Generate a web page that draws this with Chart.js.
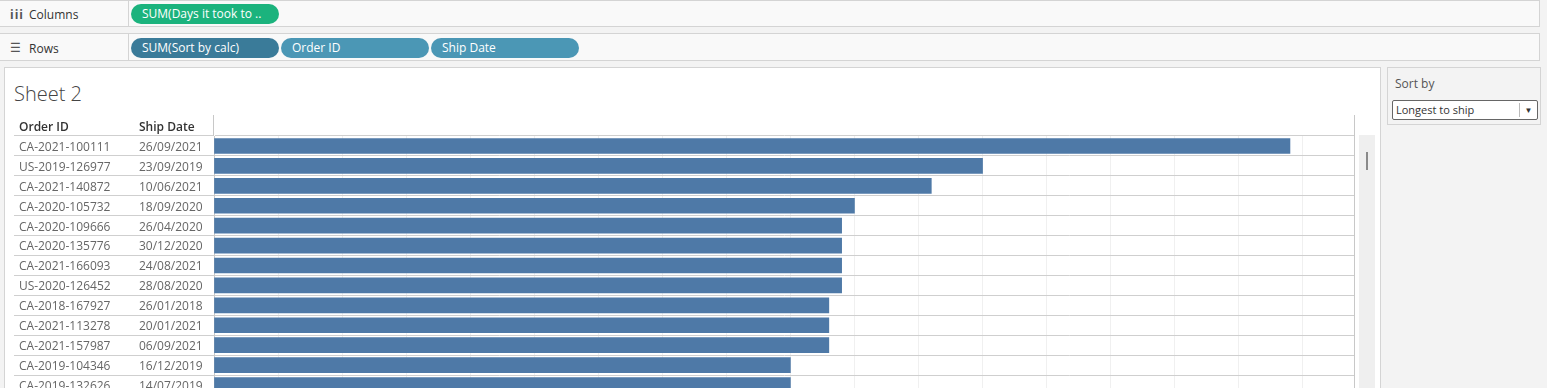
<!DOCTYPE html>
<html>
<head>
<meta charset="utf-8">
<script src="https://cdn.jsdelivr.net/npm/chart.js@4"></script>
<style>
  body { margin: 0; width: 1547px; height: 388px; overflow: hidden; background: #f3f3f3; font-family: "Open Sans", sans-serif; position: relative; }
  .shelf { position: absolute; left: 0; width: 1540px; background: #f9f9f9; border: 1px solid #d4d4d4; border-left: none; box-sizing: border-box; }
  .shelf .lbl { position: absolute; left: 0; top: 0; bottom: 0; width: 128px; border-right: 1px solid #d4d4d4; font-size: 12px; color: #333; }
  .shelf .lbl span.ic { position: absolute; left: 10px; color: #555; font-size: 12px; font-weight: bold; }
  .shelf .lbl span.tx { position: absolute; left: 29px; }
  .pill { position: absolute; height: 20px; border-radius: 10px; color: #fff; font-size: 12px; line-height: 20px; padding-left: 11px; box-sizing: border-box; }
  #panel { position: absolute; left: 4px; top: 67px; width: 1377px; height: 340px; background: #fff; border: 1px solid #d4d4d4; box-sizing: border-box; }
  #title { position: absolute; left: 14px; top: 80px; font-size: 20px; font-weight: 300; color: #444; }
  #wrap { position: absolute; left: 14px; top: 115px; width: 1342px; height: 280px; }
  #scroll { position: absolute; left: 1359px; top: 135px; width: 16px; height: 260px; background: #efefef; }
  #thumb { position: absolute; left: 7px; top: 17px; width: 2px; height: 18px; background: #8a8a8a; }
  #card { position: absolute; left: 1387px; top: 67px; width: 154px; height: 58px; border: 1px solid #d4d4d4; box-sizing: border-box; background: #f3f3f3; }
  #card .t { position: absolute; left: 7px; top: 7px; font-size: 12px; color: #555; }
  #dd { position: absolute; left: 4px; top: 32px; width: 146px; height: 20px; border: 1px solid #666; border-radius: 2px; background: #fff; box-sizing: border-box; font-size: 11px; color: #333; line-height: 18px; padding-left: 3px; }
  #dd .ar { position: absolute; right: 0; top: 2px; width: 17px; height: 14px; border-left: 1px solid #bbb; font-size: 8px; line-height: 14px; text-align: center; color: #333; }
</style>
</head>
<body>
<div class="shelf" style="top:0;height:27px;">
  <div class="lbl"><span class="ic" style="top:5px;letter-spacing:1px;">iii</span><span class="tx" style="top:5px;">Columns</span></div>
  <div class="pill" style="left:131px;top:3px;width:148px;background:#1bb37d;">SUM(Days it took to ..</div>
</div>
<div class="shelf" style="top:33px;height:28px;">
  <div class="lbl"><span class="ic" style="top:5px;font-weight:normal;">☰</span><span class="tx" style="top:6px;">Rows</span></div>
  <div class="pill" style="left:131px;top:4px;width:148px;background:#3a7b99;">SUM(Sort by calc)</div>
  <div class="pill" style="left:281px;top:4px;width:148px;background:#4b97b5;">Order ID</div>
  <div class="pill" style="left:431px;top:4px;width:148px;background:#4b97b5;">Ship Date</div>
</div>
<div id="panel"></div>
<div id="title">Sheet 2</div>
<div id="wrap"><canvas id="chart"></canvas></div>
<div id="scroll"><div id="thumb"></div></div>
<div id="card"><div class="t">Sort by</div><div id="dd">Longest to ship<div class="ar">▼</div></div></div>

<script>
const orderIds = ['CA-2021-100111', 'US-2019-126977', 'CA-2021-140872', 'CA-2020-105732', 'CA-2020-109666',
  'CA-2020-135776', 'CA-2021-166093', 'US-2020-126452', 'CA-2018-167927', 'CA-2021-113278',
  'CA-2021-157987', 'CA-2019-104346', 'CA-2019-132626'];
const shipDates = ['26/09/2021', '23/09/2019', '10/06/2021', '18/09/2020', '26/04/2020',
  '30/12/2020', '24/08/2021', '28/08/2020', '26/01/2018', '20/01/2021',
  '06/09/2021', '16/12/2019', '14/07/2019'];
const daysToShip = [84, 60, 56, 50, 49, 49, 49, 49, 48, 48, 48, 45, 45];

const LABEL_W = 200;

// row header columns + header lines
const rowHeaders = {
  id: 'rowHeaders',
  afterDraw(chart) {
    const ctx = chart.ctx;
    const area = chart.chartArea;
    const yScale = chart.scales.y;
    ctx.save();
    ctx.textBaseline = 'middle';
    ctx.fillStyle = '#333';
    ctx.font = '600 12px "Open Sans"';
    ctx.fillText('Order ID', 5, 13);
    ctx.fillText('Ship Date', 125, 13);
    ctx.font = '12px "Open Sans"';
    ctx.fillStyle = '#666';
    orderIds.forEach((id, i) => {
      const y = yScale.getPixelForValue(i) + 1.5;
      ctx.fillText(id, 5, y);
      ctx.fillText(shipDates[i], 125, y);
    });
    ctx.strokeStyle = '#c8c8c8';
    ctx.lineWidth = 1;
    ctx.beginPath();
    ctx.moveTo(Math.round(area.left) - 0.5, 0);
    ctx.lineTo(Math.round(area.left) - 0.5, area.top);
    ctx.moveTo(Math.round(area.right) + 0.5, 0);
    ctx.lineTo(Math.round(area.right) + 0.5, area.bottom);
    ctx.stroke();
    ctx.restore();
  }
};

new Chart(document.getElementById('chart'), {
  type: 'bar',
  data: {
    labels: orderIds,
    datasets: [{
      label: 'SUM(Days it took to ship)',
      data: daysToShip,
      backgroundColor: '#4e79a7',
      barThickness: 15
    }]
  },
  options: {
    indexAxis: 'y',
    responsive: true,
    maintainAspectRatio: false,
    animation: false,
    layout: { padding: { top: 21, right: 2, left: 0, bottom: 0 } },
    plugins: { legend: { display: false }, tooltip: { enabled: false } },
    scales: {
      x: {
        min: 0,
        max: 89,
        ticks: { display: false, stepSize: 5 },
        grid: {
          color: c => c.tick.value === 0 ? '#c8c8c8' : '#f0f0f0',
          drawTicks: false
        },
        border: { display: false }
      },
      y: {
        ticks: { display: false },
        afterFit(scale) { scale.width = LABEL_W; },
        grid: {
          offset: true,
          color: '#cfcfcf',
          drawTicks: true,
          tickLength: LABEL_W
        },
        border: { display: true, color: '#c8c8c8' }
      }
    }
  },
  plugins: [rowHeaders]
});
</script>
</body>
</html>
